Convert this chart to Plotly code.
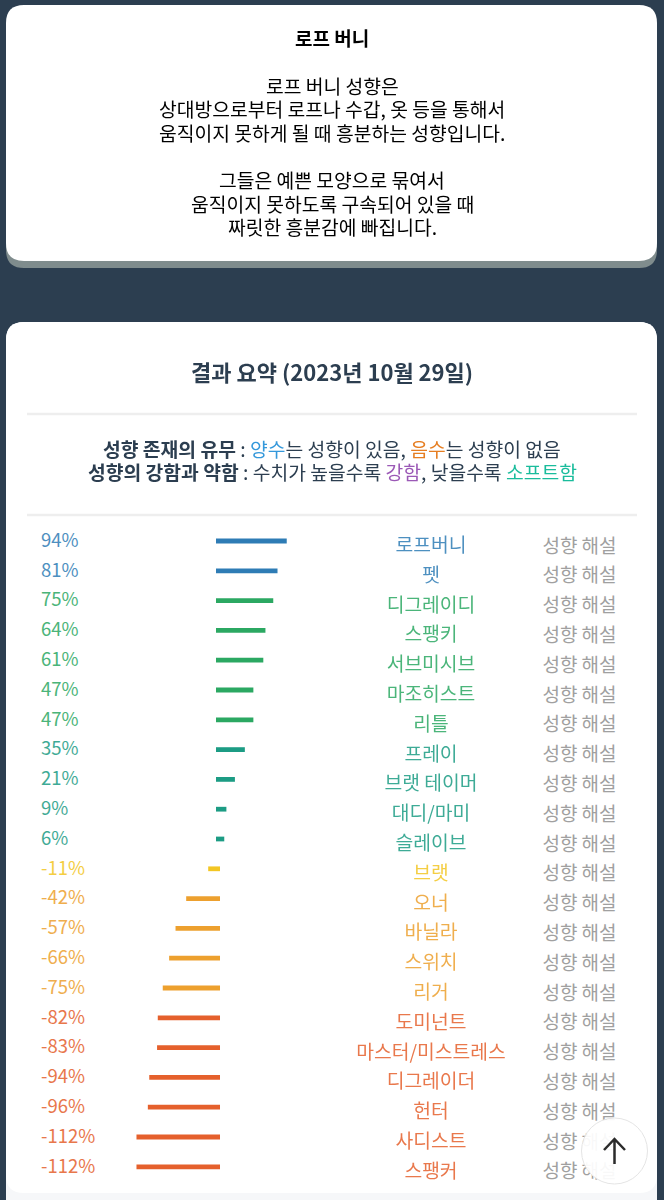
import plotly.graph_objects as go

WIDTH = 664
HEIGHT = 1200

# Result rows, top to bottom
NAMES = ['로프버니', '펫', '디그레이디', '스팽키', '서브미시브', '마조히스트', '리틀', '프레이',
         '브랫 테이머', '대디/마미', '슬레이브', '브랫', '오너', '바닐라', '스위치', '리거',
         '도미넌트', '마스터/미스트레스', '디그레이더', '헌터', '사디스트', '스팽커']
VALUES = [94, 81, 75, 64, 61, 47, 47, 35, 21, 9, 6,
          -11, -42, -57, -66, -75, -82, -83, -94, -96, -112, -112]
DESCRIPTION = '성향 해설'

INTRO_TITLE = '로프 버니'
INTRO_LINES = ['로프 버니 성향은', '상대방으로부터 로프나 수갑, 옷 등을 통해서',
               '움직이지 못하게 될 때 흥분하는 성향입니다.', '그들은 예쁜 모양으로 묶여서',
               '움직이지 못하도록 구속되어 있을 때', '짜릿한 흥분감에 빠집니다.']
SUMMARY_TITLE = '결과 요약 (2023년 10월 29일)'

BG = '#2c3e50'
BLUE = '#2e7cb5'
GREEN = '#2ba862'
TEAL = '#1c9c84'
YELLOW = '#f3c623'
ORANGE = '#eda02e'
RED = '#e5602c'
ROW_COLORS = [BLUE] * 2 + [GREEN] * 5 + [TEAL] * 4 + [YELLOW] + [ORANGE] * 4 + [RED] * 6

FONT = 'Noto Sans CJK KR'

# Axis scale: x is in percent, y in rows, both tied to the page in pixels
ZERO_PX = 220
PX_PER_PCT = 0.71
FIRST_ROW_PX = 541
ROW_PX = 29.8
BAR_PAD = 4 / PX_PER_PCT  # every bar gets a small stub on top of its value


def x_at(px):
    return (px - ZERO_PX) / PX_PER_PCT


def px_x(px):
    return px / WIDTH


def px_y(px):
    return 1 - px / HEIGHT


def rounded_rect(x0, y0, x1, y1, r):
    xa, xb = px_x(x0), px_x(x1)
    ya, yb = px_y(y0), px_y(y1)
    rx, ry = r / WIDTH, r / HEIGHT
    return (f'M {xa + rx} {ya} L {xb - rx} {ya} Q {xb} {ya} {xb} {ya - ry} '
            f'L {xb} {yb + ry} Q {xb} {yb} {xb - rx} {yb} '
            f'L {xa + rx} {yb} Q {xa} {yb} {xa} {yb + ry} '
            f'L {xa} {ya - ry} Q {xa} {ya} {xa + rx} {ya} Z')


def card(x0, y0, x1, y1, r, color):
    return dict(type='path', path=rounded_rect(x0, y0, x1, y1, r), xref='paper', yref='paper',
                fillcolor=color, line=dict(width=0), layer='below')


def divider(y):
    return dict(type='line', x0=px_x(27), x1=px_x(637), y0=px_y(y), y1=px_y(y), xref='paper',
                yref='paper', line=dict(color='#eeeeee', width=2.5), layer='below')


def page_text(text, x, y, size, color='#000000'):
    return dict(text=text, x=px_x(x), y=px_y(y), xref='paper', yref='paper', xanchor='center',
                yanchor='middle', showarrow=False, font=dict(family=FONT, size=size, color=color))


def span(text, color):
    return f"<span style='color:{color}'>{text}</span>"


rows = list(range(len(NAMES)))
fig = go.Figure()

# Bars: positive ones start a stub left of zero, negative ones end at zero
fig.add_trace(go.Bar(
    y=rows,
    x=[v + BAR_PAD if v > 0 else v - BAR_PAD for v in VALUES],
    base=[-BAR_PAD if v > 0 else 0 for v in VALUES],
    orientation='h',
    width=0.16,
    marker=dict(color=ROW_COLORS, line=dict(width=0)),
    hoverinfo='skip',
))

# Text columns are traces so that the scroll button can sit on top of them
fig.add_trace(go.Scatter(
    x=[x_at(41)] * len(rows), y=[r + 0.04 for r in rows], mode='text', opacity=0.85,
    text=[f'{v}%' for v in VALUES], textposition='middle right',
    textfont=dict(family=FONT, size=18.5, color=ROW_COLORS),
))
fig.add_trace(go.Scatter(
    x=[x_at(431)] * len(rows), y=[r + 0.21 for r in rows], mode='text', opacity=0.85,
    text=NAMES, textposition='middle center',
    textfont=dict(family=FONT, size=19.3, color=ROW_COLORS),
))
fig.add_trace(go.Scatter(
    x=[x_at(579.5)] * len(rows), y=[r + 0.23 for r in rows], mode='text',
    text=[DESCRIPTION] * len(rows), textposition='middle center',
    textfont=dict(family=FONT, size=19, color='#a0a0a0'),
))

shapes = [
    card(6, 12, 657, 268, 18, '#7f8c8d'),
    card(6, 5, 657, 261, 18, '#ffffff'),
    card(6, 322, 657, 1240, 18, '#f6f7f9'),
    card(6, 322, 657, 1193, 18, '#ffffff'),
    divider(414),
    divider(515),
    # scroll-to-top button
    dict(type='circle', x0=px_x(581.5), x1=px_x(647.5), y0=px_y(1118), y1=px_y(1184), xref='paper',
         yref='paper', fillcolor='rgba(255,255,255,0.93)', line=dict(color='#e4e4e4', width=1),
         layer='above'),
    dict(type='path', xref='paper', yref='paper', layer='above', line=dict(color='#2b2b2b', width=2.5),
         path=(f'M {px_x(614.5)} {px_y(1164)} L {px_x(614.5)} {px_y(1139)} '
               f'M {px_x(604)} {px_y(1150)} L {px_x(614.5)} {px_y(1139)} L {px_x(625)} {px_y(1150)}')),
]

annotations = [page_text(f'<b>{INTRO_TITLE}</b>', 332, 38, 19)]
for line, y in zip(INTRO_LINES, [86, 109, 133, 180, 204, 227]):
    annotations.append(page_text(line, 332, y, 19.3))
annotations.append(page_text(f'<b>{SUMMARY_TITLE}</b>', 332, 371, 22, BG))
annotations.append(page_text(
    '<b>성향 존재의 유무</b> : ' + span('양수', '#3498db') + '는 성향이 있음, '
    + span('음수', '#e67e22') + '는 성향이 없음', 332, 449, 19.3, BG))
annotations.append(page_text(
    '<b>성향의 강함과 약함</b> : 수치가 높을수록 ' + span('강함', '#9b59b6') + ', 낮을수록 '
    + span('소프트함', '#1abc9c'), 332, 472, 19.3, BG))

fig.update_layout(
    width=WIDTH,
    height=HEIGHT,
    margin=dict(l=0, r=0, t=0, b=0),
    paper_bgcolor=BG,
    plot_bgcolor='rgba(0,0,0,0)',
    showlegend=False,
    xaxis=dict(range=[x_at(0), x_at(WIDTH)], visible=False, fixedrange=True),
    yaxis=dict(range=[(HEIGHT - FIRST_ROW_PX) / ROW_PX, -FIRST_ROW_PX / ROW_PX], visible=False, fixedrange=True),
    shapes=shapes,
    annotations=annotations,
)

# the page's default body margin would push the figure off by 8px
fig.write_html("out.html", config={'displayModeBar': False}, post_script="document.body.style.margin = '0';")
